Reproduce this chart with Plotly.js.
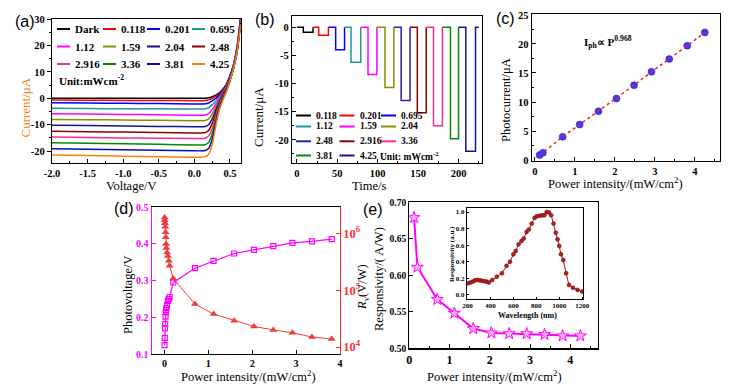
<!DOCTYPE html>
<html><head><meta charset="utf-8">
<script src="https://cdn.plot.ly/plotly-3.0.1.min.js"></script>
<style>html,body{margin:0;padding:0;background:#fff}#chart{width:736px;height:391px}</style>
</head><body><div id="chart"></div>
<script>
// ================= DATA =================
// (a) I-V curves
const ivLabels = ['Dark','0.118','0.201','0.695','1.12','1.59','2.04','2.48','2.916','3.36','3.81','4.25'];
const ivVoltage = [-2.0,-1.5,-1.0,-0.5,0.0,0.1,0.15,0.2,0.25,0.3,0.35,0.4,0.45,0.5,0.55,0.6,0.65];
const ivDark  = [0,0,0,0,0,0,0.05,0.2,0.6,1.2,2.1,3.4,5.4,8.6,12.8,19.5,31];
const iv0118  = [-0.7,-0.75,-0.8,-0.85,-0.9,-0.9,-0.85,-0.6,-0.1,0.6,1.6,3.0,5.0,8.2,12.5,19.2,30.5];
const iv0201  = [-1.7,-1.8,-1.9,-2.0,-2.2,-2.2,-2.1,-1.8,-1.0,-0.1,1.1,2.7,4.8,8.0,12.3,19.0,30.2];
const iv0695  = [-3.8,-3.9,-3.95,-4.0,-4.1,-4.1,-4.0,-3.6,-2.5,-1.1,0.5,2.3,4.5,7.7,12.1,18.8,30];
const iv112   = [-5.9,-6.0,-6.1,-6.2,-6.4,-6.4,-6.3,-5.8,-4.3,-2.2,-0.1,2.0,4.3,7.5,11.9,18.6,29.8];
const iv159   = [-8.0,-8.1,-8.2,-8.35,-8.5,-8.5,-8.4,-7.8,-6.0,-3.3,-0.7,1.7,4.1,7.3,11.7,18.4,29.6];
const iv204   = [-10.2,-10.35,-10.5,-10.65,-10.8,-10.8,-10.7,-10.0,-7.8,-4.5,-1.3,1.4,3.9,7.1,11.6,18.2,29.4];
const iv248   = [-12.5,-12.65,-12.8,-12.95,-13.1,-13.1,-13.0,-12.2,-9.6,-5.7,-1.9,1.1,3.6,6.9,11.5,18.0,29.2];
const iv2916  = [-14.7,-14.85,-15.0,-15.1,-15.2,-15.2,-15.1,-14.3,-11.5,-6.9,-2.5,0.7,3.3,6.8,11.4,17.8,29];
const iv336   = [-16.8,-17.0,-17.2,-17.45,-17.7,-17.7,-17.6,-16.7,-13.5,-8.2,-3.2,0.3,3.0,6.7,11.4,17.7,28.8];
const iv381   = [-19.1,-19.3,-19.5,-19.7,-19.9,-19.9,-19.8,-19.0,-15.6,-9.5,-3.9,-0.2,2.8,6.6,11.3,17.6,28.5];
const iv425   = [-21.5,-21.7,-21.9,-22.1,-22.3,-22.3,-22.1,-21.2,-17.6,-10.7,-4.5,-0.8,2.5,6.5,11.3,17.5,28];
const ivXTickVals = [-2.0,-1.5,-1.0,-0.5,0.0,0.5];
const ivXTickText = ['-2.0','-1.5','-1.0','-0.5','0.0','0.5'];
const ivYTickVals = [-20,-10,0,10,20,30];
const ivYTickText = ['-20','-10','0','10','20','30'];

// (b) on/off photocurrent pulses
const pulseLabels = ['0.118','0.201','0.695','1.12','1.59','2.04','2.48','2.916','3.36','3.81','4.25'];
const pulseLevels = [-0.9,-1.4,-4.0,-6.2,-8.4,-10.7,-13.0,-15.2,-17.5,-19.8,-22.0];
const pulseOnTimes  = [8,27,48,67,88,109,129,149,169,190,209];
const pulseOffTimes = [20,39,59,79,99,120,140,160,180,200,221];
const pulseEndTime = 225;
const pulseYTickVals = [-20,-15,-10,-5,0];
const pulseYTickText = ['-20','-15','-10','-5','0'];

// (c) photocurrent vs power
const cPower = [0.118,0.201,0.695,1.12,1.59,2.04,2.48,2.916,3.36,3.81,4.25];
const cPhotocurrent = [0.85,1.25,4.0,6.1,8.4,10.6,12.9,15.2,17.4,19.7,22.0];

// (d) photovoltage and Rv vs power
const dPower = [0.004,0.008,0.012,0.018,0.025,0.03,0.036,0.045,0.06,0.08,0.1,0.118,0.201,0.695,1.12,1.59,2.04,2.48,2.916,3.36,3.81];
const dPhotovoltage = [0.124,0.144,0.17,0.182,0.202,0.214,0.22,0.225,0.233,0.245,0.25,0.255,0.295,0.334,0.354,0.374,0.384,0.394,0.403,0.407,0.413];
const dRv = [1.9e6,1.7e6,1.5e6,1.3e6,1.05e6,8.5e5,6.5e5,5.5e5,4.6e5,4.0e5,3.3e5,2.7e5,1.6e5,5.7e4,3.8e4,2.9e4,2.3e4,2.0e4,1.78e4,1.5e4,1.38e4];

// (e) responsivity vs power
const ePower = [0.118,0.201,0.695,1.12,1.59,2.04,2.48,2.916,3.36,3.81,4.25];
const eResponsivity = [0.679,0.611,0.567,0.548,0.527,0.521,0.520,0.520,0.519,0.517,0.517];

// (e) inset spectral response
const insetWavelength = [205,225,245,265,285,305,325,345,365,385,415,455,500,540,570,600,620,645,670,690,715,735,760,785,805,830,850,870,890,910,930,950,970,985,1000,1015,1035,1060,1085,1120,1160,1200];
const insetResponse = [0.14,0.15,0.16,0.175,0.18,0.175,0.17,0.165,0.16,0.15,0.18,0.22,0.26,0.35,0.40,0.49,0.53,0.61,0.65,0.68,0.76,0.79,0.86,0.93,0.95,0.955,0.96,0.96,1.0,0.995,0.96,0.86,0.75,0.67,0.59,0.49,0.42,0.26,0.12,0.085,0.06,0.04];
const insetXTickVals = [200,400,600,800,1000,1200];

// ================= STYLE / LAYOUT =================
const W = 736, H = 391;
const SERIF = 'Liberation Serif, Times New Roman, serif';
const SANS = 'Liberation Sans, Arial, sans-serif';
const px = v => v / W;
const py = v => 1 - v / H;
const dx = (a, b) => [a / W, b / W];
const dy = (top, bottom) => [1 - bottom / H, 1 - top / H];
const F = (size, color, weight) => ({family: SERIF, size: size, color: color || '#000', weight: weight || 400});

const ivColors = ['#000000','#ff0000','#0000ff','#1a9a9a','#ff00ff','#8c8c00','#14148c','#8b0000','#ff2b8a','#008a00','#0a0ab4','#ff8000'];
const pulseColors = ['#000000','#ff0000','#0000ff','#1a9a9a','#ff00ff','#8c8c00','#2424a8','#8b0000','#ff2b8a','#008a00','#14149a'];
const ivCurrents = [ivDark,iv0118,iv0201,iv0695,iv112,iv159,iv204,iv248,iv2916,iv336,iv381,iv425];

const traces = [];
// (a)
ivCurrents.forEach((cur, i) => traces.push({
  type: 'scatter', mode: 'lines', x: ivVoltage, y: cur, xaxis: 'x', yaxis: 'y',
  name: ivLabels[i], line: {color: ivColors[i], width: 1.5, shape: 'spline', smoothing: 0.7}, showlegend: false
}));
// (b)
pulseLevels.forEach((lvl, i) => {
  const start = i === 0 ? 0 : pulseOffTimes[i - 1];
  const xs = [start, pulseOnTimes[i], pulseOnTimes[i], pulseOffTimes[i], pulseOffTimes[i]];
  const ys = [0, 0, lvl, lvl, 0];
  if (i === pulseLevels.length - 1) { xs.push(pulseEndTime); ys.push(0); }
  traces.push({type: 'scatter', mode: 'lines', x: xs, y: ys, xaxis: 'x2', yaxis: 'y2',
    name: pulseLabels[i], line: {color: pulseColors[i], width: 1.5}, showlegend: false});
});
// (c)
traces.push({type: 'scatter', mode: 'markers', x: cPower, y: cPhotocurrent, xaxis: 'x3', yaxis: 'y3',
  marker: {color: '#3a3aff', size: 7, line: {color: '#2020c0', width: 0.5}}, showlegend: false});
traces.push({type: 'scatter', mode: 'lines', x: cPower, y: cPhotocurrent, xaxis: 'x3', yaxis: 'y3',
  line: {color: '#ff1a1a', width: 1.5, dash: 'dot'}, showlegend: false});
// (d)
traces.push({type: 'scatter', mode: 'lines+markers', x: dPower, y: dPhotovoltage, xaxis: 'x4', yaxis: 'y4',
  line: {color: '#ff00ff', width: 1.2}, marker: {symbol: 'square-open', size: 5, color: '#ff00ff', line: {width: 1.2}}, showlegend: false});
traces.push({type: 'scatter', mode: 'lines+markers', x: dPower, y: dRv, xaxis: 'x4', yaxis: 'y5',
  line: {color: '#f03c3c', width: 1}, marker: {symbol: 'triangle-up', size: 7, color: '#f03c3c'}, showlegend: false});
// (e)
traces.push({type: 'scatter', mode: 'lines+markers', x: ePower, y: eResponsivity, xaxis: 'x6', yaxis: 'y6',
  line: {color: '#ff00ff', width: 2}, marker: {symbol: 'star', size: 9, color: '#ffb8ff', line: {color: '#ff00ff', width: 1}}, showlegend: false});
// inset
traces.push({type: 'scatter', mode: 'lines+markers', x: insetWavelength, y: insetResponse, xaxis: 'x7', yaxis: 'y7',
  line: {color: '#a01818', width: 1}, marker: {symbol: 'circle', size: 4, color: '#b22222', line: {color: '#6a0000', width: 0.5}}, showlegend: false});

function axis(o) {
  const base = {
    showline: true, linecolor: '#000', linewidth: 1.2, mirror: true,
    ticks: 'inside', ticklen: 4, tickwidth: 1, tickcolor: '#000',
    showgrid: false, zeroline: false,
    tickfont: F(10.5, '#000', 700)
  };
  return Object.assign(base, o);
}
const minorIn = d => ({ticks: 'inside', dtick: d, ticklen: 2});

const layout = {
  width: W, height: H, margin: {l: 0, r: 0, t: 0, b: 0},
  paper_bgcolor: '#fff', plot_bgcolor: 'rgba(0,0,0,0)', showlegend: false,
  font: {family: SERIF, color: '#000', size: 12},
  xaxis: axis({domain: dx(52, 241), range: [-2, 0.655], anchor: 'y',
    tickvals: ivXTickVals, ticktext: ivXTickText, minor: minorIn(0.25)}),
  yaxis: axis({domain: dy(19, 163), range: [-24.5, 30], anchor: 'x', ticks: 'outside',
    tickvals: ivYTickVals, ticktext: ivYTickText, minor: {ticks: 'outside', dtick: 5, ticklen: 2}}),
  xaxis2: axis({domain: dx(292, 482), range: [-6, 229], anchor: 'y2', dtick: 50, minor: minorIn(25)}),
  yaxis2: axis({domain: dy(16, 163), range: [-24.1, 2], anchor: 'x2',
    tickvals: pulseYTickVals, ticktext: pulseYTickText, minor: minorIn(2.5)}),
  xaxis3: axis({domain: dx(531.7, 720), range: [-0.08, 4.63], anchor: 'y3', dtick: 1, minor: minorIn(0.5)}),
  yaxis3: axis({domain: dy(14, 160.7), range: [-0.12, 25.17], anchor: 'x3', dtick: 5, minor: minorIn(2.5)}),
  xaxis4: axis({domain: dx(151.7, 340), range: [-0.29, 4.0], anchor: 'y4', dtick: 1, tickfont: F(10, '#000', 700)}),
  yaxis4: axis({domain: dy(207.3, 354), range: [0.1, 0.5], anchor: 'x4', dtick: 0.1, tickformat: '.1f', mirror: false,
    linecolor: '#ff00ff', tickcolor: '#ff00ff', tickfont: F(10, '#ff00ff', 700)}),
  yaxis5: axis({domain: dy(207.3, 354), type: 'log', range: [3.877, 6.458], anchor: 'x4', overlaying: 'y4', side: 'right',
    mirror: false, dtick: 1, exponentformat: 'power', linecolor: '#ff3030', tickcolor: '#ff3030',
    tickfont: F(10, '#ff3030', 700)}),
  xaxis6: axis({domain: dx(409.3, 597.7), range: [0, 4.68], anchor: 'y6', dtick: 1,
    tickfont: F(12, '#000', 700), minor: minorIn(0.5)}),
  yaxis6: axis({domain: dy(202.3, 348.3), range: [0.5, 0.7], anchor: 'x6', dtick: 0.05, tickformat: '.2f',
    tickfont: F(9.5, '#000', 700)}),
  xaxis7: axis({domain: dx(467, 583.3), range: [195, 1210], anchor: 'y7', tickvals: insetXTickVals, ticklen: 2, linewidth: 1,
    tickfont: F(7, '#000', 700)}),
  yaxis7: axis({domain: dy(208.3, 299), range: [-0.05, 1.045], anchor: 'x7', dtick: 0.2, tickformat: '.1f', ticklen: 2, linewidth: 1,
    tickfont: F(7, '#000', 700)}),
  annotations: [],
  shapes: []
};

function ann(text, x, y, o) {
  layout.annotations.push(Object.assign({
    text: text, x: px(x), y: py(y), xref: 'paper', yref: 'paper', showarrow: false,
    xanchor: 'center', yanchor: 'middle', font: F(12.5)
  }, o || {}));
}

// panel labels
const PL = {family: SANS, size: 16, color: '#000'};
ann('(a)', 25, 21, {font: PL});
ann('(b)', 265, 20, {font: PL});
ann('(c)', 505, 19, {font: PL});
ann('(d)', 124, 208.5, {font: PL});
ann('(e)', 373, 209, {font: PL});

// axis titles
ann('Voltage/V', 131, 185.5);
ann('Current/μA', 25, 107.5, {textangle: -90, font: F(13, '#f07f10')});
ann('Time/s', 368.5, 186);
ann('Current/μA', 259, 117, {textangle: -90, font: F(13)});
ann('Power intensity/(mW/cm<sup>2</sup>)', 615.5, 183);
ann('Photocurrent/μA', 506, 100, {textangle: -90});
ann('Power intensity/(mW/cm<sup>2</sup>)', 248.5, 376);
ann('Photovoltage/V', 128, 295, {textangle: -90});
ann('<i>R</i><sub>v</sub>(V/W)', 363, 287, {textangle: -90});
ann('Power intensity/(mW/cm<sup>2</sup>)', 494, 376);
ann('Responsivity/( A/W)', 379, 279, {textangle: -90});
ann('Wavelength (nm)', 527, 315, {font: F(8, '#000', 700)});
ann('Responsivity (a.u.)', 452, 254, {textangle: -90, font: F(7, '#000', 700)});

// (c) power law note
ann('I<sub>ph</sub>∝ P<sup>0.968</sup>', 582, 42, {xanchor: 'left', font: F(11, '#000', 700)});

// legend (a): 3 rows x 4 cols
const legAColX = [57, 103, 147, 192];
const legARowY = [29, 46.5, 64];
ivLabels.forEach((lab, i) => {
  const c = i % 4, r = Math.floor(i / 4);
  const x0 = legAColX[c], y0 = legARowY[r];
  layout.shapes.push({type: 'line', xref: 'paper', yref: 'paper', x0: px(x0), x1: px(x0 + 13), y0: py(y0), y1: py(y0),
    line: {color: ivColors[i], width: 2}});
  ann(lab, x0 + 16, y0, {xanchor: 'left', font: F(11, '#000', 700)});
});
ann('Unit:mWcm<sup>-2</sup>', 57, 80, {xanchor: 'left', font: F(11, '#000', 700)});

// legend (b): 4 rows x 3 cols
const legBColX = [296, 339.5, 381];
const legBRowY = [115.5, 126.5, 141.3, 155.5];
pulseLabels.forEach((lab, i) => {
  const c = i % 3, r = Math.floor(i / 3);
  const x0 = legBColX[c], y0 = legBRowY[r];
  layout.shapes.push({type: 'line', xref: 'paper', yref: 'paper', x0: px(x0), x1: px(x0 + 15), y0: py(y0), y1: py(y0),
    line: {color: pulseColors[i], width: 2}});
  ann(lab, x0 + 18, y0, {xanchor: 'left', font: F(9.5, '#000', 700)});
});
ann('Unit: mWcm<sup>-2</sup>', 378, 155.5, {xanchor: 'left', font: F(9.5, '#000', 700)});

Plotly.newPlot('chart', traces, layout, {staticPlot: true, displayModeBar: false});
</script>
</body></html>
